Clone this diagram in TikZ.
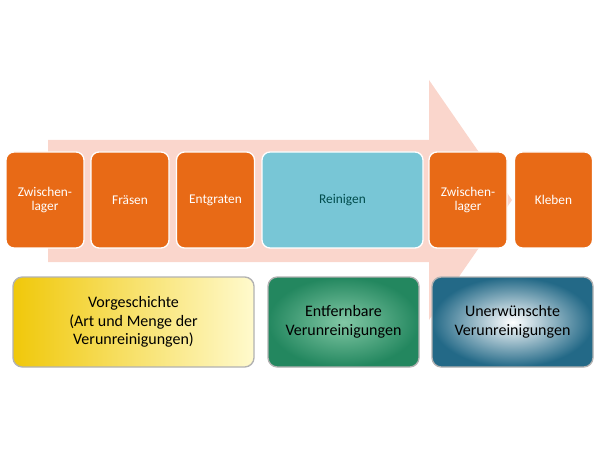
\documentclass[tikz,border=0pt]{standalone}
\usepackage{fontspec}
\setmainfont{Carlito}
\usetikzlibrary{positioning}
\definecolor{procorange}{RGB}{232,106,22}
\definecolor{reiniblue}{RGB}{120,198,214}
\definecolor{arrowpink}{RGB}{250,214,204}
\definecolor{vorgdark}{RGB}{240,200,10}
\definecolor{vorglight}{RGB}{255,250,205}
\definecolor{entfdark}{RGB}{35,135,95}
\definecolor{entflight}{RGB}{130,200,165}
\definecolor{unerwdark}{RGB}{35,105,135}
\tikzset{
  step box/.style={draw=white, line width=1pt, rounded corners=6pt, fill=procorange,
    text=white, align=center, font=\fontsize{10}{11}\selectfont},
  info box/.style={draw=gray!60, line width=1pt, rounded corners=7pt,
    align=center, font=\fontsize{12}{14}\selectfont}
}
\begin{document}
\begin{tikzpicture}[x=0.75pt,y=-0.75pt]
  \useasboundingbox (0,0) rectangle (600,456);
  % big arrow behind
  \fill[arrowpink] (48,140) -- (429,140) -- (429,80) -- (512,200) -- (429,320) -- (429,262) -- (48,262) -- cycle;

  % process steps
  \node[step box, minimum width=78*0.75pt, minimum height=96*0.75pt] (zw1) at (45,200) {Zwischen-\\lager};
  \node[step box, minimum width=78*0.75pt, minimum height=96*0.75pt] (fraesen) at (130,200) {Fräsen};
  \node[step box, minimum width=78*0.75pt, minimum height=96*0.75pt] (entgraten) at (215.5,200) {Entgraten};
  \node[step box, fill=reiniblue, text=teal!60!black, minimum width=161*0.75pt, minimum height=96*0.75pt] (reinigen) at (342.5,200) {Reinigen};
  \node[step box, minimum width=78*0.75pt, minimum height=96*0.75pt] (zw2) at (468,200) {Zwischen-\\lager};
  \node[step box, minimum width=78*0.75pt, minimum height=96*0.75pt] (kleben) at (553.5,200) {Kleben};

  % lower boxes
  \node[info box, left color=vorgdark, right color=vorglight,
    minimum width=241*0.75pt, minimum height=90*0.75pt] (vorg) at (133.5,322)
    {Vorgeschichte\\(Art und Menge der\\Verunreinigungen)};
  \node[info box, shading=radial, outer color=entfdark, inner color=entflight,
    minimum width=151*0.75pt, minimum height=90*0.75pt] (entf) at (343.5,322)
    {Entfernbare\\Verunreinigungen};
  \node[info box, shading=radial, outer color=unerwdark, inner color=white,
    minimum width=161*0.75pt, minimum height=90*0.75pt] (unerw) at (512.5,322)
    {Unerwünschte\\Verunreinigungen};
\end{tikzpicture}
\end{document}
